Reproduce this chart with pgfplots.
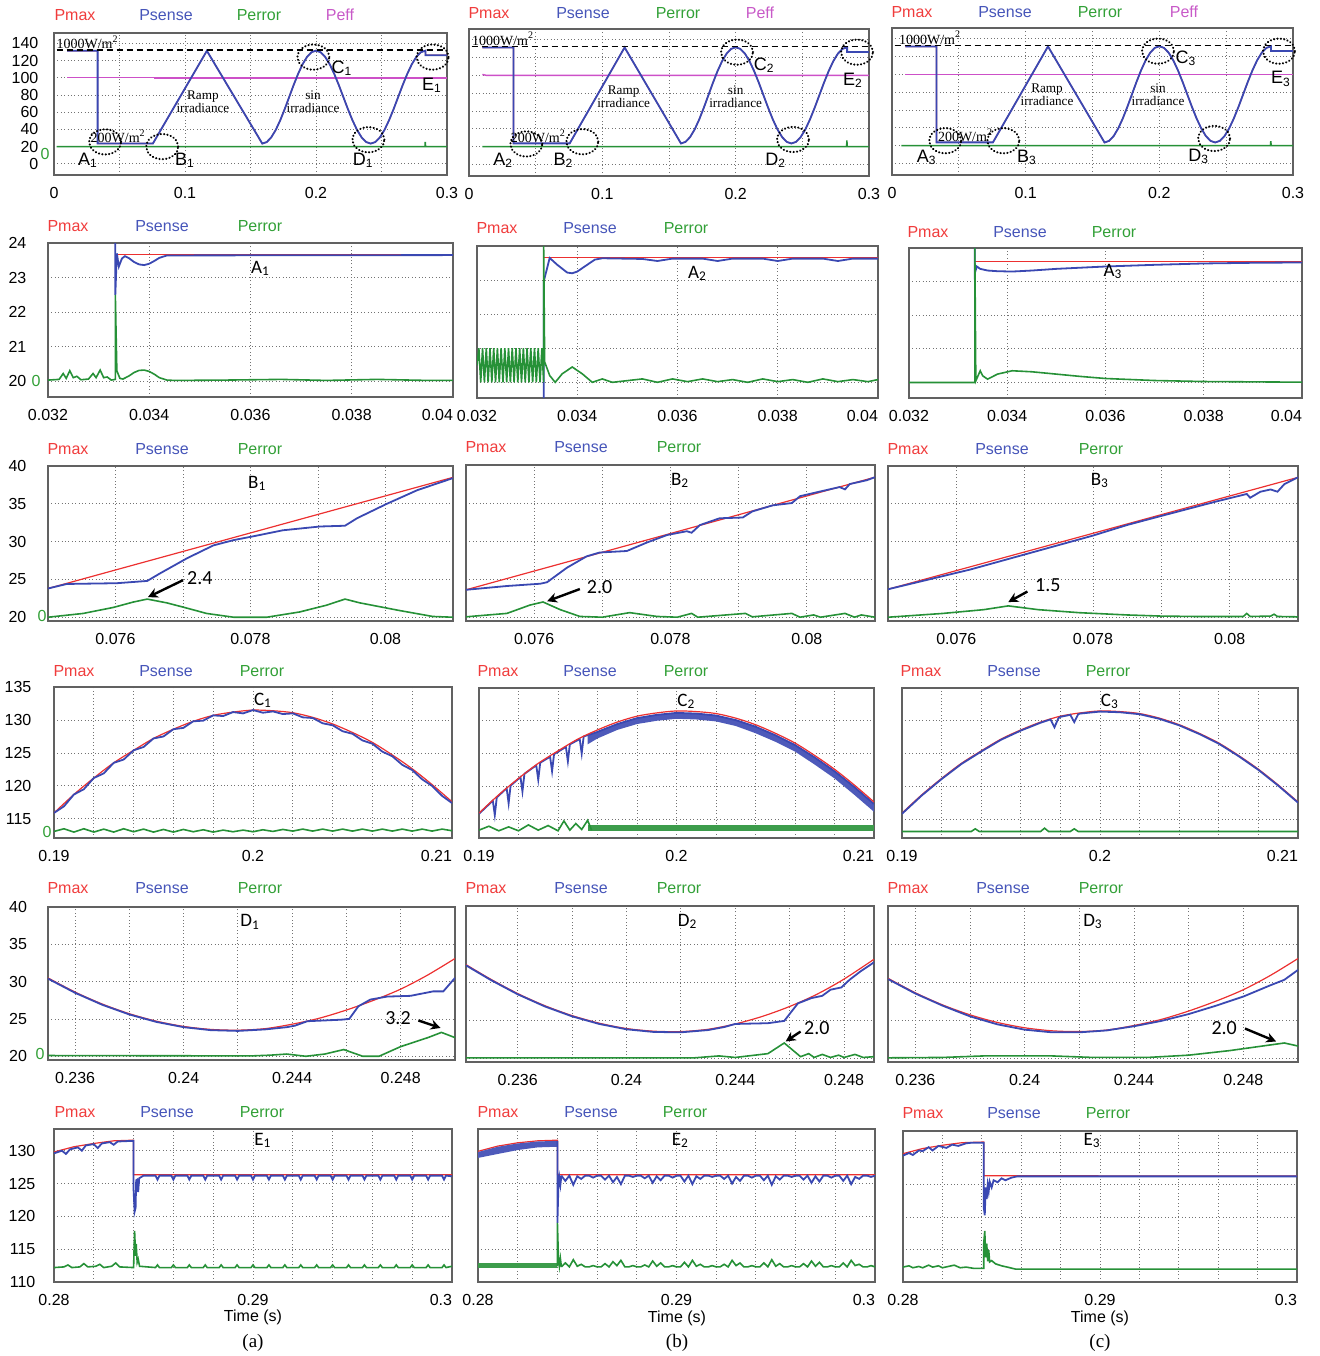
\documentclass[border=0pt]{standalone}
\usepackage{fontspec}
\setmainfont{Liberation Sans}
\newfontfamily\tnr{Liberation Serif}
\newfontfamily\cbr{Carlito}
\usepackage{pgfplots}
\pgfplotsset{compat=1.18}
\usepackage{pgfplotstable}
\usetikzlibrary{arrows.meta}

\definecolor{cmax}{RGB}{236,48,48}
\definecolor{csen}{RGB}{58,72,178}
\definecolor{cerr}{RGB}{38,145,55}
\definecolor{ceff}{RGB}{205,80,200}
\definecolor{tmax}{RGB}{240,60,60}
\definecolor{tsen}{RGB}{70,85,185}
\definecolor{terr}{RGB}{50,160,55}
\definecolor{teff}{RGB}{200,90,200}

\pgfplotsset{
 pnl/.style={scale only axis, anchor=south west, clip mode=individual,
   axis line style={draw=black!62, line width=0.9pt},
   grid=major, major grid style={draw=black!55, line width=0.45pt, dash pattern=on 0.5pt off 1.2pt},
   major tick length=0pt, scaled x ticks=false, scaled y ticks=false,
   tick label style={font=\fontsize{8}{9}\selectfont},
   /pgf/number format/assume math mode=true,
   xticklabel style={yshift=-2.5pt}},
 nly/.style={yticklabels={}},
 r1/.style={pnl, xmin=0, xmax=0.3, ymin=-13, ymax=152,
   xtick={0,0.05,0.1,0.15,0.2,0.25,0.3}, xticklabels={0,,0.1,,0.2,,0.3},
   ytick={0,20,40,60,80,100,120,140}, yticklabel style={xshift=-4.3pt}},
 r2/.style={pnl, xmin=0.032, xmax=0.04, ymin=19.54, ymax=24,
   xtick={0.032,0.034,0.036,0.038,0.04}, xticklabels={0.032,0.034,0.036,0.038,\makebox[0pt][r]{0.04}},
   ytick={20,21,22,23,24}, yticklabel style={xshift=-7.3pt}},
 r3/.style={pnl, xmin=0.075, xmax=0.081, ymin=19.5, ymax=40,
   xtick={0.076,0.077,0.078,0.079,0.08}, xticklabels={0.076,,0.078,,0.08},
   ytick={20,25,30,35,40}, yticklabel style={xshift=-7.3pt}},
 r4/.style={pnl, xmin=0.19, xmax=0.21, ymin=112.1, ymax=135,
   xtick={0.19,0.192,0.194,0.196,0.198,0.2,0.202,0.204,0.206,0.208,0.21},
   xticklabels={0.19,,,,,0.2,,,,,\makebox[0pt][r]{0.21}},
   ytick={115,120,125,130,135}, yticklabel style={xshift=-7.8pt}},
 r5/.style={pnl, ymin=19.5, ymax=40,
   xtick={0.236,0.238,0.24,0.242,0.244,0.246,0.248}, xticklabels={0.236,,0.24,,0.244,,0.248},
   ytick={20,25,30,35,40}, yticklabel style={xshift=-7pt}},
 r6/.style={pnl, xmin=0.28, xmax=0.3, ymin=110, ymax=133.3,
   xtick={0.28,0.282,0.284,0.286,0.288,0.29,0.292,0.294,0.296,0.298,0.3},
   xticklabels={0.28,,,,,0.29,,,,,\makebox[0pt][r]{0.3}},
   ytick={110,115,120,125,130}, yticklabel style={xshift=-5.8pt}},
 pmx/.style={draw=cmax, line width=0.6pt},
 psn/.style={draw=csen, line width=0.9pt},
 per/.style={draw=cerr, line width=0.8pt},
 pef/.style={draw=ceff, line width=0.7pt},
}
\tikzset{
 hd/.style={font=\fontsize{8}{9}\selectfont, inner sep=0pt},
 ring/.style={draw=black, line width=1.1pt, dash pattern=on 0.1pt off 1.6pt, line cap=round},
 plab/.style={font=\cbr\fontsize{9.5}{10}\selectfont, inner sep=0pt},
 olab/.style={font=\fontsize{9}{10}\selectfont, inner sep=0pt},
 anno/.style={font=\tnr\fontsize{6.6}{6.3}\selectfont, inner sep=0pt, align=center},
 val/.style={font=\cbr\fontsize{10}{11}\selectfont, inner sep=0pt},
 arr/.style={-{Stealth[length=5pt,width=5pt]}, line width=1.2pt},
}
\newcommand\hdr[4]{%
 \node[hd,text=tmax] at (#1pt,#4pt) {Pmax};
 \node[hd,text=tsen] at (#2pt,#4pt) {Psense};
 \node[hd,text=terr] at (#3pt,#4pt) {Perror};}
\newcommand\zr[2]{\node[hd,text=terr] at (#1pt,#2pt) {0};}

% power over the whole 0.3 s run: step, ramp and sinusoidal irradiance
\pgfplotstableread{
t p
0.01 131.3
0.0333 131.3
0.0333 23.6
0.0755 23.6
0.1167 131.3
0.159 23.5
0.16242 25.3
0.16583 30.7
0.16925 39.3
0.17267 50.5
0.17608 63.5
0.1795 77.5
0.18292 91.5
0.18633 104.5
0.18975 115.7
0.19317 124.3
0.19658 129.7
0.2 131.5
0.20348 129.7
0.20697 124.3
0.21045 115.7
0.21393 104.5
0.21742 91.5
0.2209 77.5
0.22438 63.5
0.22787 50.5
0.23135 39.3
0.23483 30.7
0.23832 25.3
0.2418 23.5
0.24528 25.3
0.24877 30.7
0.25225 39.3
0.25573 50.5
0.25922 63.5
0.2627 77.5
0.26618 91.5
0.26967 104.5
0.27315 115.7
0.27663 124.3
0.28012 129.7
0.2836 131.5
0.2836 126.2
0.3 126.2
}\ovw

% maximum power around the peak of the sine (C panels)
\pgfplotstableread{
t p
0.19 115.9
0.191 118.7
0.192 121.2
0.193 123.5
0.194 125.4
0.195 127.2
0.196 128.6
0.197 129.8
0.198 130.7
0.199 131.2
0.2 131.5
0.201 131.4
0.202 131.1
0.203 130.4
0.204 129.4
0.205 128.1
0.206 126.6
0.207 124.7
0.208 122.6
0.209 120.2
0.21 117.6
}\cmx

% maximum power around the trough of the sine (D panels)
\pgfplotstableread{
t p
0.235 30.5
0.236 28.6
0.237 27.0
0.238 25.7
0.239 24.7
0.240 24.0
0.241 23.6
0.242 23.5
0.243 23.7
0.244 24.3
0.245 25.1
0.246 26.2
0.247 27.5
0.248 29.0
0.249 30.9
0.250 33.1
}\dmx

\pgfplotstableread{
t p
0.2341 32.3
0.235 30.4
0.236 28.5
0.237 26.9
0.238 25.6
0.239 24.6
0.240 23.9
0.241 23.55
0.242 23.5
0.243 23.8
0.244 24.5
0.245 25.5
0.246 26.8
0.247 28.4
0.248 30.4
0.2491 33.0
}\dmxb

% E2 after the irradiance step: sensed power and error
\pgfplotstableread{
t b g
0.2842 126.2 112.3
0.2844 125.4 112.9
0.2846 126.2 112.3
0.2848 124.8 113.4
0.2850 126.1 112.4
0.2852 125.7 112.7
0.2854 126.2 112.3
0.2856 126.2 112.3
0.2858 125.9 112.5
0.2860 126.2 112.3
0.2862 126.2 112.3
0.2864 125.6 112.8
0.2866 126.2 112.3
0.2868 125.2 113.1
0.2870 126.0 112.5
0.2872 124.9 113.3
0.2874 126.2 112.3
0.2876 126.2 112.3
0.2878 126.0 112.5
0.2880 126.2 112.3
0.2882 126.2 112.3
0.2884 125.8 112.6
0.2886 126.2 112.3
0.2888 125.1 113.2
0.2890 126.1 112.4
0.2892 125.5 112.9
0.2894 126.2 112.3
0.2896 126.2 112.3
0.2898 125.9 112.5
0.2900 126.2 112.3
0.2902 126.2 112.3
0.2904 125.3 113.0
0.2906 126.2 112.3
0.2908 124.9 113.3
0.2910 126.1 112.4
0.2912 125.7 112.7
0.2914 126.2 112.3
0.2916 126.2 112.3
0.2918 126.0 112.5
0.2920 126.2 112.3
0.2922 126.2 112.3
0.2924 125.7 112.7
0.2926 126.2 112.3
0.2928 125.0 113.3
0.2930 126.0 112.5
0.2932 125.4 112.9
0.2934 126.2 112.3
0.2936 126.2 112.3
0.2938 125.9 112.5
0.2940 126.2 112.3
0.2942 126.2 112.3
0.2944 125.5 112.9
0.2946 126.2 112.3
0.2948 124.8 113.4
0.2950 126.1 112.4
0.2952 125.6 112.8
0.2954 126.2 112.3
0.2956 126.2 112.3
0.2958 126.0 112.5
0.2960 126.2 112.3
0.2962 126.2 112.3
0.2964 125.6 112.8
0.2966 126.2 112.3
0.2968 125.1 113.2
0.2970 126.1 112.4
0.2972 125.3 113.0
0.2974 126.2 112.3
0.2976 126.2 112.3
0.2978 125.9 112.5
0.2980 126.2 112.3
0.2982 126.2 112.3
0.2984 125.4 112.9
0.2986 126.2 112.3
0.2988 124.9 113.3
0.2990 126.0 112.5
0.2992 125.7 112.7
0.2994 126.2 112.3
0.2996 126.2 112.3
0.2998 126.0 112.5
0.3000 126.2 112.3
}\etwo

\begin{document}
\begin{tikzpicture}
\path[use as bounding box] (0pt,0pt) rectangle (659.5pt,-678pt);

% series names above each panel
\hdr{37.5}{83}{129.5}{-7.5} \node[hd,text=teff] at (170pt,-7.5pt) {Peff};
\hdr{244.5}{291.5}{339}{-6.5} \node[hd,text=teff] at (380pt,-6.5pt) {Peff};
\hdr{456}{502.5}{550}{-6} \node[hd,text=teff] at (592pt,-6pt) {Peff};
\hdr{34}{81}{130}{-113}
\hdr{248.5}{295}{343}{-114}
\hdr{464}{510}{557}{-116}
\hdr{34}{81}{130}{-224.5}
\hdr{243}{290.5}{339.5}{-223.5}
\hdr{454}{501}{550.5}{-224.5}
\hdr{37}{83}{131}{-335.5}
\hdr{249}{295}{343}{-335.5}
\hdr{460.5}{507}{554}{-335.5}
\hdr{34}{81}{130}{-444}
\hdr{243}{290.5}{339.5}{-444}
\hdr{454}{501.5}{550.5}{-444}
\hdr{37.5}{83.5}{131}{-556}
\hdr{249}{295.5}{342.5}{-556}
\hdr{461.5}{507}{554}{-556.5}

% zero of the error trace
\zr{22.5}{-77} \zr{18}{-190.5} \zr{21}{-308} \zr{23.5}{-416} \zr{20}{-527}

% time axis titles and column letters
\node[hd] at (126.5pt,-658.5pt) {Time (s)};
\node[hd] at (338.5pt,-659pt) {Time (s)};
\node[hd] at (550pt,-659pt) {Time (s)};
\node[font=\tnr\fontsize{9.5}{10}\selectfont, inner sep=0pt] at (126.5pt,-671.5pt) {(a)};
\node[font=\tnr\fontsize{9.5}{10}\selectfont, inner sep=0pt] at (338.5pt,-671.5pt) {(b)};
\node[font=\tnr\fontsize{9.5}{10}\selectfont, inner sep=0pt] at (550pt,-671.5pt) {(c)};

%================ row 1: whole run ================
\begin{axis}[r1, at={(27pt,-87.5pt)}, width=196.5pt, height=71pt]
\node[anno] at (axis cs:0.1137,72) {Ramp\\irradiance};
\node[anno] at (axis cs:0.1977,72) {sin\\irradiance};
\addplot[pmx] table {\ovw};
\addplot[per] coordinates {(0.002,20) (0.2833,20) (0.2834,25.5) (0.2836,20) (0.3,20)};
\addplot[pef] coordinates {(0.01,100.3) (0.077,100.3) (0.077,99.6) (0.3,99.6)};
\addplot[psn] table {\ovw};
\addplot[black, line width=0.8pt, dash pattern=on 3pt off 2pt] coordinates {(0.002,132.3) (0.3,132.3)};
\node[anno, font=\tnr\fontsize{7}{7}\selectfont] at (axis cs:0.0256,141) {1000W/m\textsuperscript{2}};
\node[anno, font=\tnr\fontsize{7}{7}\selectfont] at (axis cs:0.049,32) {200W/m\textsuperscript{2}};
\draw[ring] (axis cs:0.039,25.5) ellipse [x radius=8pt, y radius=6.3pt];
\draw[ring] (axis cs:0.0826,20) ellipse [x radius=8pt, y radius=6.3pt];
\draw[ring] (axis cs:0.198,124) ellipse [x radius=8pt, y radius=6.3pt];
\draw[ring] (axis cs:0.240,28) ellipse [x radius=8pt, y radius=6.3pt];
\draw[ring] (axis cs:0.289,124) ellipse [x radius=8pt, y radius=6.3pt];
\node[olab] at (axis cs:0.026,4.6) {A\textsubscript{1}};
\node[olab] at (axis cs:0.1,4.6) {B\textsubscript{1}};
\node[olab] at (axis cs:0.2198,111) {C\textsubscript{1}};
\node[olab] at (axis cs:0.236,4.6) {D\textsubscript{1}};
\node[olab] at (axis cs:0.2885,91.5) {E\textsubscript{1}};
\end{axis}

\begin{axis}[r1, nly, at={(234.5pt,-88pt)}, width=200pt, height=73.5pt]
\node[anno] at (axis cs:0.116,76) {Ramp\\irradiance};
\node[anno] at (axis cs:0.2,76) {sin\\irradiance};
\addplot[pmx] table {\ovw};
\addplot[per] coordinates {(0.01,20) (0.2833,20) (0.2834,27) (0.2836,20) (0.3,20)};
\addplot[pef] coordinates {(0.01,101) (0.013,100) (0.3,100)};
\addplot[psn] table {\ovw};
\addplot[black, line width=0.8pt, dash pattern=on 3pt off 2pt] coordinates {(0.002,132.3) (0.3,132.3)};
\node[anno, font=\tnr\fontsize{7}{7}\selectfont] at (axis cs:0.0256,141) {1000W/m\textsuperscript{2}};
\node[anno, font=\tnr\fontsize{7}{7}\selectfont] at (axis cs:0.052,32) {200W/m\textsuperscript{2}};
\draw[ring] (axis cs:0.043,23) ellipse [x radius=8pt, y radius=6.3pt];
\draw[ring] (axis cs:0.085,25.5) ellipse [x radius=8pt, y radius=6.3pt];
\draw[ring] (axis cs:0.201,126) ellipse [x radius=8pt, y radius=6.3pt];
\draw[ring] (axis cs:0.243,28) ellipse [x radius=8pt, y radius=6.3pt];
\draw[ring] (axis cs:0.291,126) ellipse [x radius=8pt, y radius=6.3pt];
\node[olab] at (axis cs:0.0257,4.6) {A\textsubscript{2}};
\node[olab] at (axis cs:0.0708,4.6) {B\textsubscript{2}};
\node[olab] at (axis cs:0.2215,111) {C\textsubscript{2}};
\node[olab] at (axis cs:0.23,4.6) {D\textsubscript{2}};
\node[olab] at (axis cs:0.288,94) {E\textsubscript{2}};
\end{axis}

\begin{axis}[r1, nly, at={(446pt,-87.5pt)}, width=200.5pt, height=73.5pt]
\node[anno] at (axis cs:0.116,77) {Ramp\\irradiance};
\node[anno] at (axis cs:0.199,77) {sin\\irradiance};
\addplot[pmx] table {\ovw};
\addplot[per] coordinates {(0.007,20) (0.2833,20) (0.2834,25) (0.2836,20) (0.3,20)};
\addplot[pef] coordinates {(0.01,100) (0.246,100) (0.246,99.5) (0.3,99.5)};
\addplot[psn] table {\ovw};
\addplot[black, line width=0.8pt, dash pattern=on 3pt off 2pt] coordinates {(0.002,132.3) (0.3,132.3)};
\node[anno, font=\tnr\fontsize{7}{7}\selectfont] at (axis cs:0.0285,141) {1000W/m\textsuperscript{2}};
\node[anno, font=\tnr\fontsize{7}{7}\selectfont] at (axis cs:0.055,32) {200W/m\textsuperscript{2}};
\draw[ring] (axis cs:0.0398,25.5) ellipse [x radius=8pt, y radius=6.3pt];
\draw[ring] (axis cs:0.0833,25.5) ellipse [x radius=8pt, y radius=6.3pt];
\draw[ring] (axis cs:0.199,126) ellipse [x radius=8pt, y radius=6.3pt];
\draw[ring] (axis cs:0.241,28) ellipse [x radius=8pt, y radius=6.3pt];
\draw[ring] (axis cs:0.2895,126) ellipse [x radius=8pt, y radius=6.3pt];
\node[olab] at (axis cs:0.026,7) {A\textsubscript{3}};
\node[olab] at (axis cs:0.101,7) {B\textsubscript{3}};
\node[olab] at (axis cs:0.22,118) {C\textsubscript{3}};
\node[olab] at (axis cs:0.2295,8) {D\textsubscript{3}};
\node[olab] at (axis cs:0.291,95) {E\textsubscript{3}};
\end{axis}

%================ row 2: A, irradiance step ================
\begin{axis}[r2, at={(24pt,-198.5pt)}, width=202.5pt, height=77pt]
\addplot[pmx] coordinates {(0.03333,24) (0.03333,23.66) (0.04,23.66)};
\addplot[psn] coordinates {(0.03333,24) (0.03333,22.5) (0.03336,23.7) (0.0334,23.32) (0.03346,23.55) (0.03352,23.62) (0.0336,23.56) (0.0337,23.45) (0.0338,23.38) (0.0339,23.36) (0.034,23.4) (0.0341,23.48) (0.0342,23.57) (0.03435,23.64) (0.04,23.65)};
\addplot[per] coordinates {(0.032,20.03) (0.03222,20.05) (0.0323,20.22) (0.03236,20.08) (0.03243,20.3) (0.0325,20.1) (0.03257,20.14) (0.03265,20.04) (0.0328,20.06) (0.03289,20.22) (0.03295,20.1) (0.03303,20.32) (0.0331,20.1) (0.03317,20.12) (0.03325,20.03) (0.03333,20.05) (0.03333,22.5) (0.03336,20.3) (0.03342,20.08) (0.03348,20.06) (0.0336,20.15) (0.0337,20.25) (0.0338,20.31) (0.0339,20.32) (0.034,20.28) (0.0341,20.2) (0.0342,20.1) (0.03435,20.03) (0.0345,20.02) (0.0355,20.03) (0.0366,20.05) (0.0375,20.02) (0.0385,20.05) (0.0395,20.02) (0.04,20.02)};
\node[plab] at (axis cs:0.0362,23.27) {A\textsubscript{1}};
\end{axis}

\begin{axis}[r2, nly, at={(238.5pt,-199pt)}, width=200.5pt, height=76pt]
\addplot[pmx] coordinates {(0.03333,24) (0.03333,23.66) (0.04,23.66)};
\addplot[psn] coordinates {(0.03333,19.54) (0.03333,22.95) (0.03345,23.65) (0.0336,23.45) (0.0338,23.22) (0.0339,23.2) (0.034,23.25) (0.0342,23.45) (0.03435,23.6) (0.0345,23.64) (0.0353,23.62) (0.0356,23.56) (0.0359,23.63) (0.0365,23.63) (0.0368,23.56) (0.0371,23.63) (0.0377,23.63) (0.038,23.56) (0.0383,23.63) (0.0389,23.63) (0.0392,23.56) (0.0395,23.63) (0.04,23.63)};
\addplot[per] coordinates {(0.032,20.5) (0.032037,21) (0.032074,20) (0.032111,21) (0.032148,20) (0.032185,21) (0.032222,20) (0.032259,21) (0.032296,20) (0.032333,21) (0.03237,20) (0.032407,21) (0.032444,20) (0.032481,21) (0.032518,20) (0.032555,21) (0.032592,20) (0.032629,21) (0.032666,20) (0.032703,21) (0.03274,20) (0.032777,21) (0.032814,20) (0.032851,21) (0.032888,20) (0.032925,21) (0.032962,20) (0.032999,21) (0.033036,20) (0.033073,21) (0.03311,20) (0.033147,21) (0.033184,20) (0.033221,21) (0.033258,20) (0.033295,21) (0.03333,20) (0.03333,24) (0.03335,20.6) (0.03345,20.2) (0.03356,20) (0.0337,20.25) (0.0339,20.45) (0.0341,20.25) (0.0343,20) (0.0345,20.1) (0.0347,20) (0.035,20.05) (0.0353,20.1) (0.0356,20) (0.0359,20.1) (0.0362,20.02) (0.0365,20.1) (0.0368,20.02) (0.0371,20.08) (0.0374,20) (0.0377,20.1) (0.038,20.02) (0.0383,20.08) (0.0386,20) (0.0389,20.1) (0.0392,20.02) (0.0395,20.08) (0.0398,20.02) (0.04,20.08)};
\node[plab] at (axis cs:0.0364,23.2) {A\textsubscript{2}};
\end{axis}

\begin{axis}[r2, nly, at={(454.5pt,-199pt)}, width=196.5pt, height=75pt]
\addplot[pmx] coordinates {(0.03334,24) (0.03334,23.6) (0.04,23.6)};
\addplot[psn] coordinates {(0.03334,24) (0.03334,23.25) (0.03338,23.45) (0.03345,23.38) (0.0336,23.33) (0.0338,23.31) (0.0341,23.3) (0.0345,23.33) (0.035,23.38) (0.036,23.45) (0.037,23.5) (0.038,23.54) (0.039,23.56) (0.04,23.57)};
\addplot[per] coordinates {(0.032,20) (0.03334,20) (0.03334,24) (0.03336,20.05) (0.03345,20.35) (0.0335,20.2) (0.0336,20.1) (0.0338,20.25) (0.0341,20.35) (0.0345,20.32) (0.035,20.25) (0.0355,20.18) (0.036,20.12) (0.037,20.06) (0.038,20.03) (0.04,20.01)};
\node[plab] at (axis cs:0.03615,23.3) {A\textsubscript{3}};
\end{axis}

%================ row 3: B, start of the ramp ================
\begin{axis}[r3, at={(24pt,-310.5pt)}, width=202.5pt, height=77.5pt]
\addplot[pmx] coordinates {(0.075,23.8) (0.081,38.5)};
\addplot[psn] coordinates {(0.075,23.8) (0.07528,24.4) (0.07602,24.5) (0.07647,24.8) (0.07666,25.8) (0.07706,27.8) (0.07745,29.5) (0.07775,30.2) (0.07804,30.7) (0.07848,31.5) (0.07903,32) (0.0794,32.1) (0.07958,33.1) (0.08002,35) (0.08047,36.8) (0.081,38.4)};
\addplot[per] coordinates {(0.075,20) (0.07552,20.5) (0.07597,21.3) (0.07626,22) (0.07647,22.4) (0.07676,21.9) (0.07706,21.2) (0.07735,20.5) (0.07775,20) (0.07824,20) (0.07873,20.7) (0.07913,21.6) (0.0794,22.4) (0.07962,21.9) (0.0802,20.9) (0.0807,20.1) (0.081,20)};
\node[plab] at (axis cs:0.0781,37.7) {B\textsubscript{1}};
\draw[arr] (axis cs:0.077,24.9) -- (axis cs:0.07648,22.65);
\node[val] at (axis cs:0.07725,25.2) {2.4};
\end{axis}

\begin{axis}[r3, nly, at={(233pt,-310.5pt)}, width=204.5pt, height=78pt]
\addplot[pmx] coordinates {(0.075,23.6) (0.081,38.4)};
\addplot[psn] coordinates {(0.075,23.6) (0.0756,24.1) (0.07609,24.4) (0.07619,24.6) (0.07648,26.5) (0.07677,28) (0.07696,28.5) (0.07736,28.7) (0.07765,29.8) (0.07795,30.8) (0.07824,31.3) (0.07831,31.1) (0.07843,32.1) (0.07872,33) (0.07906,33.1) (0.0792,33.9) (0.0795,34.7) (0.07978,35) (0.0799,35.9) (0.08009,36.3) (0.08048,37.1) (0.08056,36.8) (0.08063,37.5) (0.08088,38) (0.081,38.4)};
\addplot[per] coordinates {(0.075,20.05) (0.0756,20.5) (0.07594,21.6) (0.07613,22) (0.07638,21) (0.07667,20.1) (0.077,20) (0.0774,20.6) (0.0778,20.1) (0.0781,20) (0.07831,20.5) (0.0784,20) (0.0791,20.5) (0.0792,20.05) (0.07978,20.5) (0.0799,20) (0.0801,20.3) (0.0802,20) (0.08056,20.5) (0.0807,20) (0.0808,20.3) (0.081,20)};
\node[plab] at (axis cs:0.07814,38) {B\textsubscript{2}};
\draw[arr] (axis cs:0.07667,23.7) -- (axis cs:0.07619,22.1);
\node[val] at (axis cs:0.07696,23.9) {2.0};
\end{axis}

\begin{axis}[r3, nly, at={(444pt,-310.5pt)}, width=205pt, height=77.5pt]
\addplot[pmx] coordinates {(0.075,23.7) (0.081,38.5)};
\addplot[psn] coordinates {(0.075,23.7) (0.0762,26.3) (0.077,28.3) (0.078,30.8) (0.0785,32.2) (0.079,33.4) (0.0798,35.3) (0.08025,36.3) (0.0803,35.8) (0.08045,36.6) (0.0806,36.9) (0.0807,36.6) (0.0808,37.6) (0.081,38.5)};
\addplot[per] coordinates {(0.075,20) (0.0758,20.5) (0.0764,21) (0.07676,21.5) (0.0772,21) (0.0778,20.6) (0.0785,20.3) (0.079,20.15) (0.0795,20.1) (0.0802,20.1) (0.08025,20.5) (0.0803,20.1) (0.0806,20.15) (0.08065,20.4) (0.0807,20.1) (0.081,20.05)};
\node[plab] at (axis cs:0.0781,38.1) {B\textsubscript{3}};
\draw[arr] (axis cs:0.07704,23.4) -- (axis cs:0.07676,22.0);
\node[val] at (axis cs:0.07734,24.2) {1.5};
\end{axis}

%================ row 4: C, peak of the sine ================
\begin{axis}[r4, at={(27pt,-419pt)}, width=199pt, height=75.5pt]
\addplot[pmx, smooth] table {\cmx};
\addplot[psn] coordinates {(0.19,115.9) (0.1905,116.9) (0.191,118.7) (0.1915,119.5) (0.192,121.2) (0.1925,121.9) (0.193,123.5) (0.1935,124) (0.194,125.4) (0.1945,125.9) (0.195,127.2) (0.1955,127.5) (0.196,128.6) (0.1965,128.8) (0.197,129.8) (0.1975,129.9) (0.198,130.7) (0.1985,130.6) (0.199,131.2) (0.1995,131) (0.2,131.5) (0.2005,131.1) (0.201,131.3) (0.2015,130.9) (0.202,131) (0.2025,130.4) (0.203,130.3) (0.2035,129.5) (0.204,129.2) (0.2045,128.3) (0.205,127.9) (0.2055,126.9) (0.206,126.4) (0.2065,125.2) (0.207,124.5) (0.2075,123.2) (0.208,122.4) (0.2085,121) (0.209,120) (0.2095,118.5) (0.21,117.4)};
\addplot[per] coordinates {(0.19,113.1) (0.1905,113.5) (0.191,113) (0.1915,113.5) (0.192,113) (0.1925,113.45) (0.193,113) (0.1935,113.5) (0.194,113.05) (0.1945,113.45) (0.195,113) (0.1955,113.4) (0.196,113) (0.1965,113.4) (0.197,113.05) (0.1975,113.35) (0.198,113) (0.1985,113.3) (0.199,113.05) (0.1995,113.3) (0.2,113.05) (0.2005,113.35) (0.201,113.1) (0.2015,113.4) (0.202,113.15) (0.2025,113.45) (0.203,113.15) (0.2035,113.45) (0.204,113.15) (0.2045,113.45) (0.205,113.15) (0.2055,113.45) (0.206,113.15) (0.2065,113.45) (0.207,113.15) (0.2075,113.45) (0.208,113.15) (0.2085,113.45) (0.209,113.15) (0.2095,113.45) (0.21,113.2)};
\node[plab] at (axis cs:0.2005,133) {C\textsubscript{1}};
\end{axis}

\begin{axis}[r4, nly, at={(239.5pt,-419pt)}, width=197.5pt, height=75pt]
\addplot[fill=csen!90, draw=none] coordinates {(0.1955,127.7) (0.196,128.3) (0.197,129.5) (0.198,130.4) (0.199,130.9) (0.2,131.2) (0.201,131.1) (0.202,130.8) (0.203,130.1) (0.204,129.1) (0.205,127.8) (0.206,126.3) (0.207,124.4) (0.208,122.3) (0.209,119.9) (0.21,117.3) (0.21,116.1) (0.209,118.7) (0.208,121.2) (0.207,123.3) (0.206,125.3) (0.205,126.8) (0.204,128.1) (0.203,129.2) (0.202,129.9) (0.201,130.2) (0.2,130.3) (0.199,130) (0.198,129.5) (0.197,128.6) (0.196,127.3) (0.1955,126.4)};
\addplot[psn] coordinates {(0.19,115.8) (0.1907,117.8) (0.1908,115.6) (0.1909,118.3) (0.1914,119.7) (0.1915,117.4) (0.1916,120.1) (0.1921,121.4) (0.1922,119.2) (0.1923,121.9) (0.1929,123.2) (0.193,121) (0.1931,123.6) (0.1936,124.5) (0.1937,122.3) (0.1938,124.9) (0.1944,126) (0.1945,123.8) (0.1946,126.4) (0.1951,127.2) (0.1952,125) (0.1953,127.6) (0.196,128.3) (0.197,129.5) (0.198,130.4) (0.199,130.9) (0.2,131.2) (0.201,131.1) (0.202,130.8) (0.203,130.1) (0.204,129.1) (0.205,127.8) (0.206,126.3) (0.207,124.4) (0.208,122.3) (0.209,119.9) (0.21,117.3)};
\addplot[pmx, smooth] table {\cmx};
\addplot[fill=cerr!90, draw=none] coordinates {(0.1955,113.2) (0.21,113.2) (0.21,114.1) (0.1955,114.1)};
\addplot[per] coordinates {(0.19,113.3) (0.1905,113.9) (0.191,113.2) (0.1915,113.8) (0.192,113.2) (0.1925,114.1) (0.193,113.3) (0.1935,114) (0.194,113.2) (0.1943,114.7) (0.1946,113.3) (0.1949,114.3) (0.1952,113.4) (0.1955,114.8) (0.1957,113.3)};
\node[plab] at (axis cs:0.2005,133) {C\textsubscript{2}};
\end{axis}

\begin{axis}[r4, nly, at={(451pt,-419pt)}, width=198pt, height=75pt]
\addplot[pmx, smooth] table {\cmx};
\addplot[psn] coordinates {(0.19,115.8) (0.191,118.6) (0.192,121.1) (0.193,123.4) (0.194,125.3) (0.195,127.1) (0.196,128.5) (0.197,129.7) (0.1975,130.2) (0.1977,129) (0.1979,130.4) (0.198,130.6) (0.1985,130.9) (0.1987,129.8) (0.1989,131) (0.199,131.1) (0.2,131.4) (0.201,131.3) (0.202,131) (0.203,130.3) (0.204,129.3) (0.205,128) (0.206,126.5) (0.207,124.6) (0.208,122.5) (0.209,120.1) (0.21,117.5)};
\addplot[per] coordinates {(0.19,113.1) (0.1935,113.1) (0.1937,113.5) (0.1939,113.1) (0.197,113.1) (0.1972,113.6) (0.1974,113.1) (0.1985,113.1) (0.1987,113.5) (0.1989,113.1) (0.21,113.1)};
\node[plab] at (axis cs:0.2005,133) {C\textsubscript{3}};
\end{axis}

%================ row 5: D, trough of the sine ================
\begin{axis}[r5, xmin=0.235, xmax=0.25, at={(24pt,-530pt)}, width=203.5pt, height=76.5pt]
\addplot[pmx, smooth] table {\dmx};
\addplot[psn] coordinates {(0.235,30.4) (0.236,28.5) (0.237,26.9) (0.238,25.6) (0.239,24.6) (0.24,23.9) (0.241,23.5) (0.242,23.4) (0.243,23.6) (0.2438,23.9) (0.2441,24.1) (0.24456,24.7) (0.2458,24.9) (0.2461,25) (0.24644,26.7) (0.24688,27.6) (0.2475,28) (0.24836,28.1) (0.2492,28.7) (0.24957,28.7) (0.25,30.5)};
\addplot[per] coordinates {(0.235,20.1) (0.2425,20.05) (0.2432,20.15) (0.2438,20.3) (0.2445,20) (0.2452,20.3) (0.2459,20.9) (0.2466,20) (0.2472,20) (0.248,21.3) (0.249,22.5) (0.2495,23.2) (0.25,22.5)};
\node[plab] at (axis cs:0.24245,38) {D\textsubscript{1}};
\draw[arr] (axis cs:0.24865,24.8) -- (axis cs:0.24947,23.8);
\node[val] at (axis cs:0.2479,25.1) {3.2};
\end{axis}

\begin{axis}[r5, nly, xmin=0.2341, xmax=0.2491, at={(233pt,-531pt)}, width=204pt, height=78pt]
\addplot[pmx, smooth] table {\dmxb};
\addplot[psn] coordinates {(0.2341,32.2) (0.235,30.3) (0.236,28.4) (0.237,26.8) (0.238,25.5) (0.239,24.5) (0.24,23.8) (0.241,23.45) (0.242,23.4) (0.243,23.7) (0.2436,24.1) (0.244,24.5) (0.2452,24.6) (0.2458,24.9) (0.2463,27.2) (0.2468,27.9) (0.2472,28.2) (0.2475,29) (0.2479,29.3) (0.2482,30.3) (0.2486,31.4) (0.2491,32.6)};
\addplot[per] coordinates {(0.2341,20.05) (0.2425,20.05) (0.2434,20.3) (0.244,20.1) (0.2452,20.6) (0.2458,22) (0.2462,20.8) (0.2464,20.2) (0.2467,20.6) (0.2469,20.1) (0.2472,20.5) (0.2475,20.1) (0.2478,20.4) (0.248,20.1) (0.2484,20.5) (0.2487,20.1) (0.2491,20.2)};
\node[plab] at (axis cs:0.24225,38) {D\textsubscript{2}};
\draw[arr] (axis cs:0.2464,23.5) -- (axis cs:0.24585,22.2);
\node[val] at (axis cs:0.2470,24) {2.0};
\end{axis}

\begin{axis}[r5, nly, xmin=0.235, xmax=0.25, at={(444pt,-531pt)}, width=205pt, height=78pt]
\addplot[pmx, smooth] table {\dmx};
\addplot[psn] coordinates {(0.235,30.4) (0.236,28.5) (0.237,26.9) (0.238,25.5) (0.239,24.45) (0.24,23.75) (0.241,23.4) (0.242,23.4) (0.243,23.65) (0.244,24.2) (0.245,24.9) (0.246,25.8) (0.247,26.9) (0.248,28.1) (0.249,29.6) (0.2495,30.3) (0.25,31.6)};
\addplot[per] coordinates {(0.235,20.05) (0.237,20.1) (0.2385,20.3) (0.241,20.3) (0.2425,20.1) (0.2445,20.1) (0.246,20.4) (0.2475,21) (0.2495,22) (0.25,21.6)};
\node[plab] at (axis cs:0.2425,38) {D\textsubscript{3}};
\draw[arr] (axis cs:0.24806,23.9) -- (axis cs:0.2492,22.2);
\node[val] at (axis cs:0.2473,23.9) {2.0};
\end{axis}

%================ row 6: E, step down of irradiance ================
\begin{axis}[r6, at={(27pt,-641pt)}, width=199pt, height=76.5pt]
\addplot[pmx] coordinates {(0.28,129.8) (0.281,130.6) (0.282,131.1) (0.283,131.5) (0.284,131.6) (0.284,126.35) (0.3,126.35)};
\addplot[psn] coordinates {(0.28,129.6) (0.2804,130) (0.2806,129.5) (0.2808,130.2) (0.2812,130.5) (0.2814,130) (0.2816,130.8) (0.282,131) (0.2822,130.4) (0.2824,131.1) (0.2828,131.3) (0.283,130.9) (0.2832,131.4) (0.284,131.5) (0.284,124) (0.28405,120.7) (0.2841,121.3) (0.28413,125.5) (0.28418,125.6) (0.28423,123.7) (0.28428,125.8) (0.2845,126.2) (0.2851,126.2) (0.2852,125.6) (0.2853,126.2) (0.2859,126.2) (0.286,125.6) (0.2861,126.2) (0.2867,126.2) (0.2868,125.6) (0.2869,126.2) (0.2875,126.2) (0.2876,125.6) (0.2877,126.2) (0.2883,126.2) (0.2884,125.6) (0.2885,126.2) (0.2891,126.2) (0.2892,125.6) (0.2893,126.2) (0.2899,126.2) (0.29,125.6) (0.2901,126.2) (0.2907,126.2) (0.2908,125.6) (0.2909,126.2) (0.2915,126.2) (0.2916,125.6) (0.2917,126.2) (0.2923,126.2) (0.2924,125.6) (0.2925,126.2) (0.2931,126.2) (0.2932,125.6) (0.2933,126.2) (0.2939,126.2) (0.294,125.6) (0.2941,126.2) (0.2947,126.2) (0.2948,125.6) (0.2949,126.2) (0.2955,126.2) (0.2956,125.6) (0.2957,126.2) (0.2963,126.2) (0.2964,125.6) (0.2965,126.2) (0.2971,126.2) (0.2972,125.6) (0.2973,126.2) (0.2979,126.2) (0.298,125.6) (0.2981,126.2) (0.2987,126.2) (0.2988,125.6) (0.2989,126.2) (0.2995,126.2) (0.2996,125.6) (0.2997,126.2) (0.3,126.1)};
\addplot[per] coordinates {(0.28,112.2) (0.2805,112.3) (0.2807,112.6) (0.2809,112.2) (0.2813,112.3) (0.2815,112.8) (0.2817,112.3) (0.2821,112.4) (0.2823,112.7) (0.2825,112.2) (0.2829,112.4) (0.2831,112.9) (0.2833,112.3) (0.284,112.2) (0.28405,117.8) (0.2841,114) (0.28413,115.8) (0.28418,113) (0.28423,113.5) (0.2843,112.4) (0.2851,112.2) (0.2852,112.6) (0.2853,112.2) (0.2859,112.2) (0.286,112.6) (0.2861,112.2) (0.2867,112.2) (0.2868,112.6) (0.2869,112.2) (0.2875,112.2) (0.2876,112.6) (0.2877,112.2) (0.2883,112.2) (0.2884,112.6) (0.2885,112.2) (0.2891,112.2) (0.2892,112.6) (0.2893,112.2) (0.2899,112.2) (0.29,112.6) (0.2901,112.2) (0.2907,112.2) (0.2908,112.6) (0.2909,112.2) (0.2915,112.2) (0.2916,112.6) (0.2917,112.2) (0.2923,112.2) (0.2924,112.6) (0.2925,112.2) (0.2931,112.2) (0.2932,112.6) (0.2933,112.2) (0.2939,112.2) (0.294,112.6) (0.2941,112.2) (0.2947,112.2) (0.2948,112.6) (0.2949,112.2) (0.2955,112.2) (0.2956,112.6) (0.2957,112.2) (0.2963,112.2) (0.2964,112.6) (0.2965,112.2) (0.2971,112.2) (0.2972,112.6) (0.2973,112.2) (0.2979,112.2) (0.298,112.6) (0.2981,112.2) (0.2987,112.2) (0.2988,112.6) (0.2989,112.2) (0.2995,112.2) (0.2996,112.6) (0.2997,112.2) (0.3,112.4)};
\node[plab] at (axis cs:0.2905,131.6) {E\textsubscript{1}};
\end{axis}

\begin{axis}[r6, nly, at={(239pt,-641pt)}, width=198.5pt, height=76.5pt]
\addplot[pmx] coordinates {(0.28,129.9) (0.281,130.7) (0.282,131.2) (0.283,131.5) (0.284,131.6) (0.284,126.35) (0.3,126.35)};
\addplot[fill=csen!90, draw=none] coordinates {(0.28,129.8) (0.281,130.6) (0.282,131.1) (0.283,131.4) (0.284,131.5) (0.284,130.6) (0.283,130.5) (0.282,130.1) (0.281,129.5) (0.28,128.9)};
\addplot[psn] coordinates {(0.284,131.5) (0.284,119) (0.28405,124.5) (0.2841,125.9) (0.28415,124.8) (0.2842,126.2)};
\addplot[psn] table[x=t, y=b] {\etwo};
\addplot[fill=cerr!90, draw=none] coordinates {(0.28,112.1) (0.284,112.1) (0.284,112.9) (0.28,112.9)};
\addplot[per] coordinates {(0.284,112.4) (0.284,119) (0.28405,113.8) (0.2841,112.4) (0.28415,113.6) (0.2842,112.3)};
\addplot[per] table[x=t, y=g] {\etwo};
\node[plab] at (axis cs:0.2902,131.6) {E\textsubscript{2}};
\end{axis}

\begin{axis}[r6, nly, at={(451.5pt,-641pt)}, width=197pt, height=75.5pt]
\addplot[pmx] coordinates {(0.28,129.8) (0.281,130.6) (0.282,131.1) (0.283,131.5) (0.2841,131.6) (0.2841,126.4) (0.3,126.35)};
\addplot[psn] coordinates {(0.28,129.5) (0.2803,129.9) (0.2805,129.6) (0.2808,130.3) (0.281,130.2) (0.2813,130.8) (0.2815,130.3) (0.2818,131) (0.2822,130.7) (0.2825,131.2) (0.2828,131) (0.2832,131.4) (0.2835,131.5) (0.2841,131.5) (0.2841,121.5) (0.28415,120.3) (0.2842,124.6) (0.28425,122.8) (0.2843,125) (0.28435,124) (0.2844,125.5) (0.2845,124.6) (0.2846,125.7) (0.2848,125.4) (0.285,126) (0.2852,125.7) (0.2855,126.1) (0.2858,126.3) (0.3,126.3)};
\addplot[per] coordinates {(0.28,112.3) (0.2803,112.5) (0.2805,112.2) (0.2808,112.4) (0.281,112.2) (0.2813,112.6) (0.2815,112.3) (0.2818,112.5) (0.282,112.2) (0.2823,112.4) (0.2826,112.6) (0.2829,112.2) (0.2832,112.3) (0.2836,112.1) (0.2841,112.1) (0.2841,116) (0.28415,117.9) (0.2842,113.8) (0.28425,115.9) (0.2843,113.2) (0.28435,114.9) (0.2844,113.1) (0.2845,113.3) (0.2847,112.8) (0.285,112.5) (0.2853,112.3) (0.2857,112) (0.3,112)};
\node[plab] at (axis cs:0.2896,131.8) {E\textsubscript{3}};
\end{axis}

\end{tikzpicture}
\end{document}
